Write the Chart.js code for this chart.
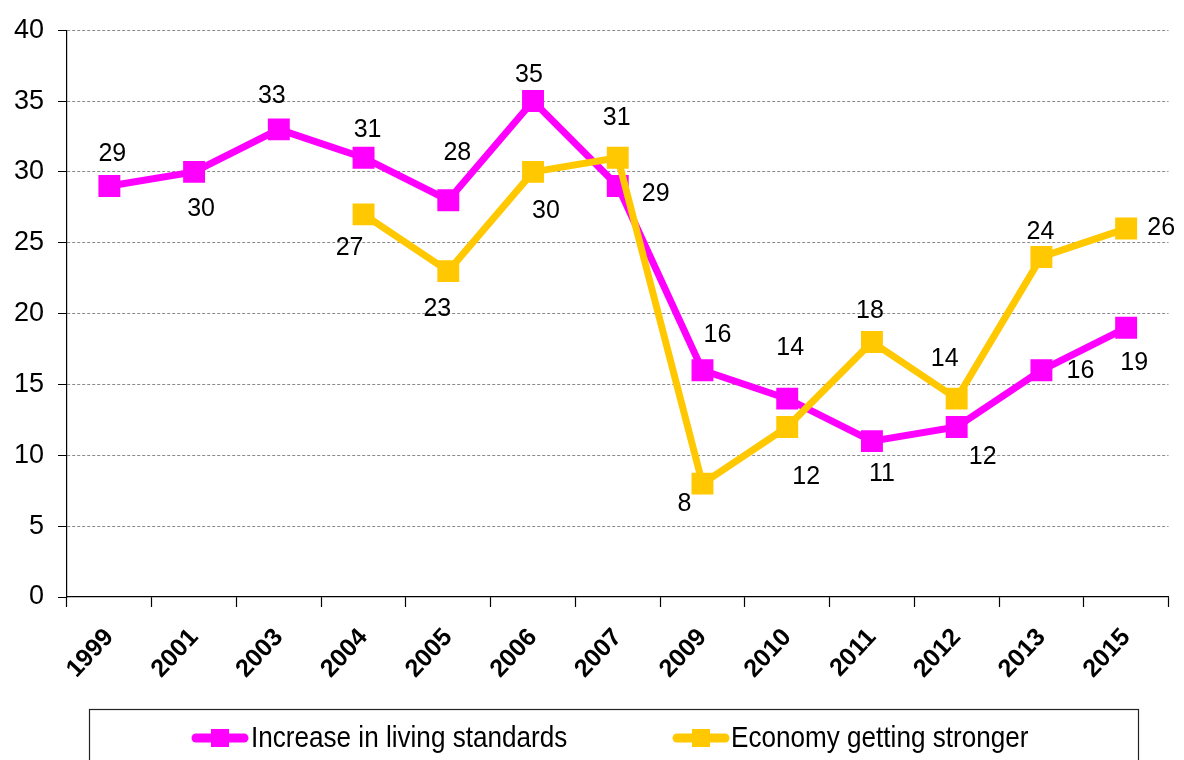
<!DOCTYPE html>
<html lang="en">
<head>
  <meta charset="UTF-8" />
  <title>Living standards and economy</title>
  <script src="https://cdn.jsdelivr.net/npm/chart.js"></script>
  <style>
    body {
      margin: 0;
      background: #fff;
    }
    #grafico { display: block; }
  </style>
</head>
<body>

<canvas id="grafico" width="1184" height="760"></canvas>

<script>
  // survey years and percentages
  const anos = ['1999', '2001', '2003', '2004', '2005', '2006', '2007', '2009', '2010', '2011', '2012', '2013', '2015'];
  const padraoDeVida = [29, 30, 33, 31, 28, 35, 29, 16, 14, 11, 12, 16, 19];
  const economia = [null, null, null, 27, 23, 30, 31, 8, 12, 18, 14, 24, 26];
  const yTicks = [0, 5, 10, 15, 20, 25, 30, 35, 40];

  const nomes = ['Increase in living standards', 'Economy getting stronger'];
  const cores = ['#ff00ff', '#ffc800'];

  // where each value label sits relative to its point (dx, dy)
  const deslocPadrao = [[3, -32], [7, 37], [-7, -33], [4, -28], [9, -47], [-4, -26], [38, 8],
                        [15, -35], [3, -51], [10, 33], [26, 30], [39, 1], [8, 35]];
  const deslocEconomia = [null, null, null, [-14, 34], [-11, 38], [13, 39], [-1, -40],
                          [-18, 20], [19, 50], [-2, -31], [-12, -40], [-1, -25], [35, 0]];

  const rotulos = {
    id: 'rotulos',
    afterDatasetsDraw(chart) {
      const ctx = chart.ctx;
      const desloc = [deslocPadrao, deslocEconomia];
      ctx.save();
      ctx.font = '25px "Liberation Sans", Arial, sans-serif';
      ctx.fillStyle = '#000';
      ctx.textAlign = 'center';
      ctx.textBaseline = 'middle';
      chart.data.datasets.forEach((ds, i) => {
        chart.getDatasetMeta(i).data.forEach((pt, j) => {
          if (ds.data[j] == null) return;
          const d = desloc[i][j];
          ctx.fillText(ds.data[j], pt.x + d[0], pt.y + d[1]);
        });
      });
      ctx.restore();
    }
  };

  // boxed legend under the axis
  const legendaCaixa = {
    id: 'legendaCaixa',
    afterDraw(chart) {
      const ctx = chart.ctx;
      ctx.save();
      ctx.strokeStyle = '#222';
      ctx.lineWidth = 1.2;
      ctx.strokeRect(89.5, 709.5, 1049, 80);

      const itens = [{ x: 192, tx: 251 }, { x: 673, tx: 731 }];
      const y = 738;
      itens.forEach((it, i) => {
        ctx.strokeStyle = cores[i];
        ctx.lineWidth = 9;
        ctx.lineCap = 'round';
        ctx.beginPath();
        ctx.moveTo(it.x + 4, y);
        ctx.lineTo(it.x + 52, y);
        ctx.stroke();
        ctx.fillStyle = cores[i];
        ctx.fillRect(it.x + 19, y - 9, 18, 18);

        ctx.fillStyle = '#000';
        ctx.font = '29px "Liberation Sans", Arial, sans-serif';
        ctx.textBaseline = 'middle';
        ctx.textAlign = 'left';
        ctx.save();
        ctx.translate(it.tx, y);
        ctx.scale(0.9, 1);
        ctx.fillText(nomes[i], 0, 1);
        ctx.restore();
      });
      ctx.restore();
    }
  };

  const serie = (nome, dados, cor, ordem) => ({
    label: nome,
    data: dados,
    borderColor: cor,
    backgroundColor: cor,
    borderWidth: 7,
    pointStyle: 'rect',
    pointRadius: 15.5,
    pointHoverRadius: 15.5,
    pointBorderWidth: 0,
    pointBackgroundColor: cor,
    spanGaps: false,
    tension: 0,
    order: ordem
  });

  new Chart(document.getElementById('grafico'), {
    type: 'line',
    data: {
      labels: anos,
      datasets: [
        serie(nomes[0], padraoDeVida, cores[0], 2),
        serie(nomes[1], economia, cores[1], 1)
      ]
    },
    options: {
      responsive: false,
      animation: false,
      layout: { padding: { top: 30, right: 12, bottom: 0, left: 0 } },
      plugins: {
        legend: { display: false },
        tooltip: { enabled: false }
      },
      scales: {
        x: {
          offset: true,
          afterFit: s => { s.height = 163; },
          grid: {
            offset: true,
            drawOnChartArea: false,
            tickLength: 10,
            tickColor: '#000',
            tickWidth: 1.2
          },
          border: { color: '#000', width: 1.2 },
          ticks: {
            color: '#000',
            minRotation: 47,
            maxRotation: 47,
            padding: 16,
            font: { family: '"Liberation Sans", Arial, sans-serif', size: 25, weight: 'bold' }
          }
        },
        y: {
          min: 0,
          max: 40,
          afterFit: s => { s.width = 67; },
          afterBuildTicks: s => { s.ticks = yTicks.map(v => ({ value: v })); },
          grid: {
            color: c => c.tick && c.tick.value === 0 ? 'rgba(0,0,0,0)' : '#8a8a8a',
            lineWidth: 1,
            tickBorderDash: [],
            tickColor: '#000',
            tickLength: 9
          },
          border: { color: '#000', width: 1.2, dash: [3, 2] },
          ticks: {
            color: '#000',
            padding: 14,
            font: { family: '"Liberation Sans", Arial, sans-serif', size: 27 }
          }
        }
      }
    },
    plugins: [rotulos, legendaCaixa]
  });
</script>

</body>
</html>
